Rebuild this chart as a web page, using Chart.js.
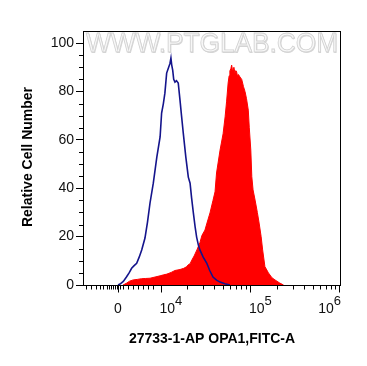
<!DOCTYPE html>
<html>
<head>
<meta charset="utf-8">
<script src="https://cdn.jsdelivr.net/npm/chart.js@4"></script>
<style>
  html, body { margin: 0; padding: 0; background: #fff; }
</style>
</head>
<body>
<canvas id="mycanvas" width="367" height="366"></canvas>
<script>
// histogram data, x in display channels (0-1024, logicle-like axis), y = % of max
var blueX = [139, 147, 160, 173, 183, 193, 203, 213, 223, 233, 246, 256, 266, 279, 293, 306, 312, 319, 325, 332,
             339, 345, 349, 352, 356, 360, 365, 371, 378, 385, 391, 398, 408, 418, 425, 431, 438, 445, 451, 458,
             464, 477, 491, 503, 516, 530, 544, 563, 583];
var blueY = [0, 0.4, 1.5, 3.4, 5.0, 6.9, 8.0, 9.0, 11.5, 14.5, 19.4, 26, 33.9, 42.1, 52.9, 61.2, 71.1, 75, 79.3, 87.6,
             89.7, 91.5, 93.8, 91, 88.8, 85, 83.9, 84.5, 83.5, 76.4, 70, 62.8, 53, 44.6, 42.1, 36, 29.8, 24, 19.8, 16.5,
             14.5, 11.5, 9.1, 6, 3.3, 2.0, 1.2, 0.5, 0];

var redX = [159, 172, 185, 199, 215, 232, 249, 266, 286, 306, 320, 333, 350, 365, 385, 400, 412, 417, 425, 432,
            441, 452, 464, 472, 484, 492, 504, 516, 524, 530, 544, 556, 564, 570, 576, 580, 583, 587, 590, 593,
            595, 599, 603, 606, 609, 613, 617, 623, 630, 637, 643, 649, 656, 660, 666, 670, 675, 683, 692, 699,
            707, 713, 722, 736, 750, 762, 781, 796];
var redY = [0, 0.7, 1.6, 2.1, 2.3, 2.6, 2.7, 2.8, 3.3, 3.8, 4.2, 4.5, 5.2, 6.0, 6.4, 6.9, 7.6, 8.3, 8.8, 10.3,
            12, 14.5, 17.5, 20.5, 22.7, 25.6, 29.8, 35, 38.5, 46.3, 55.8, 62.5, 69.5, 76, 83.5, 86.5, 88.5, 89.5, 90.9, 89,
            88.5, 90, 87.6, 88.6, 88.4, 86.5, 87, 86, 85, 82, 80, 77, 72.3, 65, 55.8, 44.8, 39.3, 35.1, 30, 25.6,
            20, 14.5, 7.6, 5, 3, 2.1, 0.8, 0];

var yTicks = [0, 20, 40, 60, 80, 100];
var yMinorStep = 5;

// major x ticks: 0, 10^4, 10^5, 10^6 (channel positions)
var xTickValues = [138.9, 307.6, 662.8, 1017.3];
var xTickBase = ['0', '10', '10', '10'];
var xTickExp = ['', '4', '5', '6'];
// minor ticks in the linear part around zero
var xLinearMinor = [11.9, 31.8, 51.6, 67.5, 79.4, 95.3, 103.2, 111.1, 119.1, 127, 135, 144.9,
                    158.8, 178.6, 198.5, 218.3, 238.1, 258, 277.8];
var decadeWidth = 355.2;

var xMinor = xLinearMinor.slice();
for (var d = 0; d < 2; d++) {
  for (var k = 2; k <= 9; k++) {
    xMinor.push(xTickValues[1 + d] + Math.log10(k) * decadeWidth);
  }
}

var decor = {
  id: 'decor',
  beforeDatasetsDraw: function(chart) {
    var ctx = chart.ctx;
    ctx.save();
    ctx.font = '26px "Liberation Sans", Arial, sans-serif';
    var text = 'WWW.PTGLAB.COM';
    var w = ctx.measureText(text).width;
    ctx.translate(212, 52);
    ctx.scale(252 / w, 1.05);
    ctx.textAlign = 'center';
    ctx.textBaseline = 'alphabetic';
    ctx.lineWidth = 0.8;
    ctx.fillStyle = '#d6d6d6';
    ctx.fillText(text, 0.7, 0.7);
    ctx.fillStyle = '#f7f7f7';
    ctx.fillText(text, 0, 0);
    ctx.strokeStyle = '#d2d2d2';
    ctx.strokeText(text, 0, 0);
    ctx.restore();
  },
  afterDraw: function(chart) {
    var ctx = chart.ctx;
    var a = chart.chartArea;
    var xs = chart.scales.x;
    var ys = chart.scales.y;
    ctx.save();
    ctx.strokeStyle = '#000';
    ctx.lineWidth = 1;
    ctx.strokeRect(Math.round(a.left) + 0.5, Math.round(a.top) + 0.5,
                   Math.round(a.right - a.left) - 1, Math.round(a.bottom - a.top));

    var yb = Math.round(a.bottom) + 0.5;
    ctx.beginPath();
    xMinor.forEach(function(v) {
      var px = Math.round(xs.getPixelForValue(v)) + 0.5;
      ctx.moveTo(px, yb);
      ctx.lineTo(px, yb + 4);
    });
    xTickValues.forEach(function(v) {
      var px = Math.round(xs.getPixelForValue(v)) + 0.5;
      ctx.moveTo(px, yb);
      ctx.lineTo(px, yb + 7);
    });
    ctx.stroke();

    // y minor ticks
    ctx.beginPath();
    for (var v = yMinorStep; v < 105; v += yMinorStep) {
      if (v % 20 === 0) continue;
      var py = Math.round(ys.getPixelForValue(v)) + 0.5;
      ctx.moveTo(a.left, py);
      ctx.lineTo(a.left - 4, py);
    }
    ctx.stroke();

    // x tick labels
    ctx.fillStyle = '#111';
    ctx.textBaseline = 'alphabetic';
    ctx.textAlign = 'left';
    xTickValues.forEach(function(v, i) {
      var px = xs.getPixelForValue(v);
      ctx.font = '14px "Liberation Sans", Arial, sans-serif';
      var wb = ctx.measureText(xTickBase[i]).width;
      ctx.font = '13px "Liberation Sans", Arial, sans-serif';
      var we = ctx.measureText(xTickExp[i]).width;
      var x0;
      if (!xTickExp[i]) x0 = px - wb / 2;
      else x0 = Math.min(px - 1, a.right - wb - we);
      ctx.font = '14px "Liberation Sans", Arial, sans-serif';
      ctx.fillText(xTickBase[i], x0, 313);
      ctx.font = '13px "Liberation Sans", Arial, sans-serif';
      ctx.fillText(xTickExp[i], x0 + wb, 305);
    });

    // axis titles
    ctx.font = 'bold 14px "Liberation Sans", Arial, sans-serif';
    ctx.textAlign = 'center';
    ctx.fillStyle = '#000';
    ctx.fillText('27733-1-AP OPA1,FITC-A', 212, 343);
    ctx.translate(32, 157);
    ctx.rotate(-Math.PI / 2);
    ctx.fillText('Relative Cell Number', 0, 0);
    ctx.restore();
  }
};

var ctx = document.getElementById('mycanvas');
var chart = new Chart(ctx, {
  type: 'line',
  data: {
    datasets: [
      {
        label: 'Control',
        data: blueX.map(function(x, i) { return { x: x, y: blueY[i] }; }),
        borderColor: '#14148c',
        borderWidth: 1.6,
        pointRadius: 0,
        fill: false,
        tension: 0
      },
      {
        label: '27733-1-AP',
        data: redX.map(function(x, i) { return { x: x, y: redY[i] }; }),
        borderColor: '#ff0000',
        backgroundColor: '#ff0000',
        borderWidth: 1,
        pointRadius: 0,
        fill: 'origin',
        tension: 0
      }
    ]
  },
  options: {
    responsive: false,
    animation: false,
    layout: { padding: { top: 31, right: 26, left: 0, bottom: 0 } },
    plugins: { legend: { display: false }, tooltip: { enabled: false } },
    scales: {
      x: {
        type: 'linear',
        min: 0,
        max: 1024,
        grid: { display: false },
        border: { display: false },
        ticks: { display: false },
        afterFit: function(scale) { scale.height = 81; }
      },
      y: {
        min: 0,
        max: 105,
        afterBuildTicks: function(scale) {
          scale.ticks = yTicks.map(function(v) { return { value: v }; });
        },
        grid: { drawOnChartArea: false, tickLength: 7, tickColor: '#000', color: '#000' },
        border: { display: false },
        ticks: {
          padding: 2,
          color: '#111',
          font: { family: '"Liberation Sans", Arial, sans-serif', size: 14 }
        },
        afterFit: function(scale) { scale.width = 83; }
      }
    }
  },
  plugins: [decor]
});
</script>
</body>
</html>
